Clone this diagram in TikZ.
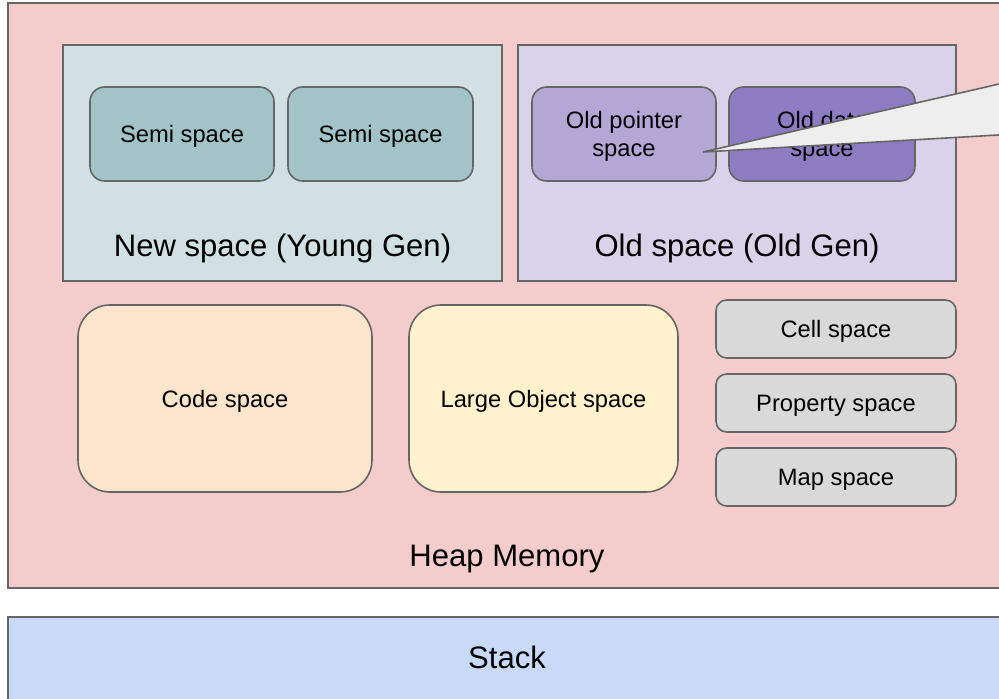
\documentclass[tikz,border=0pt]{standalone}
\usepackage{fontspec}
\setmainfont{Liberation Sans}
\usetikzlibrary{positioning,calc,fit}

\definecolor{edgegray}{HTML}{666666}
\definecolor{heapred}{HTML}{F4CCCC}
\definecolor{stackblue}{HTML}{C9DAF8}
\definecolor{newteal}{HTML}{D0E0E3}
\definecolor{semiteal}{HTML}{A2C4C9}
\definecolor{oldlilac}{HTML}{D9D2E9}
\definecolor{ptrlilac}{HTML}{B4A7D6}
\definecolor{datapurple}{HTML}{8E7CC3}
\definecolor{codepeach}{HTML}{FCE5CD}
\definecolor{lobjyellow}{HTML}{FFF2CC}
\definecolor{miscgray}{HTML}{D9D9D9}
\definecolor{calloutgray}{HTML}{EEEEEE}

\tikzset{
  box/.style={draw=edgegray, line width=1.2pt, inner sep=0pt},
  rbox/.style={box, rounded corners=#1},
  small/.style={font=\fontsize{17.8}{21}\selectfont, align=center, text depth=0pt, inner sep=0pt},
  big/.style={font=\fontsize{23.3}{28}\selectfont, anchor=base},
}

\begin{document}
\begin{tikzpicture}[x=0.75pt, y=-0.75pt]
  \useasboundingbox (0,0) rectangle (999,699);
  \clip (0,0) rectangle (999,699);
  \fill[white] (0,0) rectangle (999,699);

  % heap and stack
  \node[box, fill=heapred, fit={(8,3) (1011,588)}] (heap) {};
  \node[box, fill=stackblue, fit={(8,617) (1011,712)}] (stack) {};
  \node[big] (heaplbl) at (507,566) {Heap Memory};
  \node[big] (stacklbl) at (507,668) {Stack};

  % young generation
  \node[box, fill=newteal, fit={(63,45) (502,281)}] (newsp) {};
  \node[big] (newlbl) at (newsp.center |- 0,256) {New space (Young Gen)};
  \node[rbox=11pt, fill=semiteal, fit={(90,87) (274,181)},
    label={[small]center:Semi space}] (semia) {};
  \node[rbox=11pt, fill=semiteal, fit={(288,87) (473,181)},
    label={[small]center:Semi space}] (semib) {};

  % old generation
  \node[box, fill=oldlilac, fit={(518,45) (956,281)}] (oldsp) {};
  \node[big] (oldlbl) at (oldsp.center |- 0,256) {Old space (Old Gen)};
  \node[rbox=11pt, fill=ptrlilac, fit={(532,87) (716,181)},
    label={[small]center:Old pointer\\space}] (oldptr) {};
  \node[rbox=11pt, fill=datapurple, fit={(729,87) (915,181)},
    label={[small]center:Old data\\space}] (olddata) {};

  % the rest of the heap
  \node[rbox=24pt, fill=codepeach, fit={(78,305) (372,492)},
    label={[small]center:Code space}] (codesp) {};
  \node[rbox=24pt, fill=lobjyellow, fit={(409,305) (678,492)},
    label={[small]center:Large Object space}] (largeobj) {};
  \foreach \name/\txt/\y in {cellsp/Cell space/300, propsp/Property space/374, mapsp/Map space/448}
    \node[rbox=8pt, fill=miscgray, fit={(716,\y) (956,\y+58)},
      label={[small]center:\txt}] (\name) {};

  % callout pointing at the pointer space
  \path
  (703,152) coordinate (tip)
  (1040,74.6) coordinate (callhi)
  (1040,132.6) coordinate (calllo);
  \draw[draw=edgegray, fill=calloutgray, line width=1.2pt] (tip) -- (callhi) -- (calllo) -- cycle;
\end{tikzpicture}
\end{document}
